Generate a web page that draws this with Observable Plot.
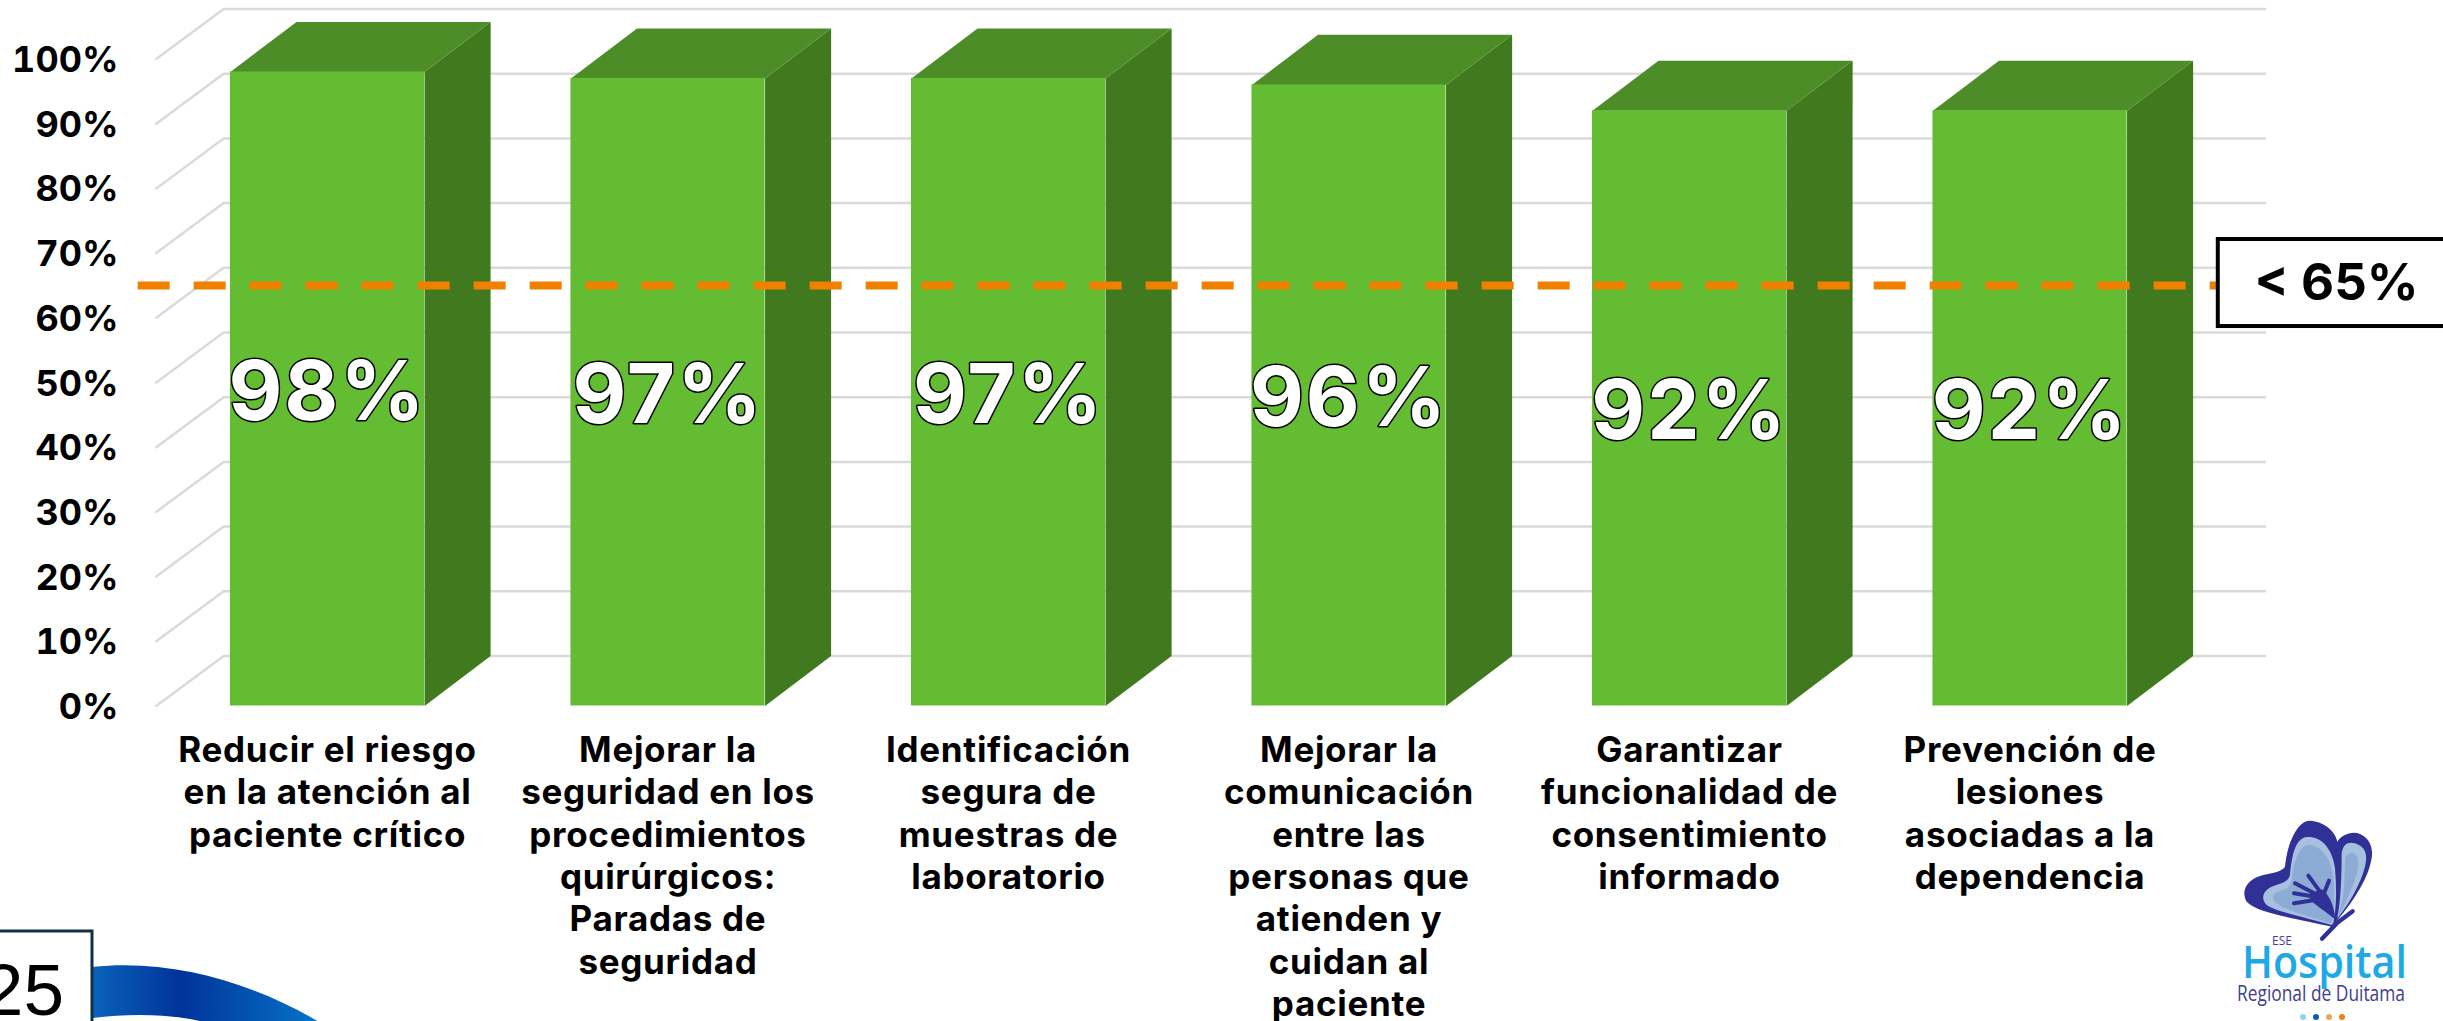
<!DOCTYPE html>
<html lang="es">
<head>
<meta charset="utf-8">
<style>
  html, body { margin: 0; padding: 0; background: #fff; overflow: hidden; }
  svg { display: block; max-width: none !important; }
  g[font-size="35"] { letter-spacing: 0.7px; }
  g[font-size="83"] { letter-spacing: 2px; }
</style>
<script src="https://cdn.jsdelivr.net/npm/d3@7"></script>
<script src="https://cdn.jsdelivr.net/npm/@observablehq/plot@0.6"></script>
</head>
<body>
<div id="chart"></div>
<script>
const categories = [
  "Reducir el riesgo\nen la atención al\npaciente crítico",
  "Mejorar la\nseguridad en los\nprocedimientos\nquirúrgicos:\nParadas de\nseguridad",
  "Identificación\nsegura de\nmuestras de\nlaboratorio",
  "Mejorar la\ncomunicación\nentre las\npersonas que\natienden y\ncuidan al\npaciente",
  "Garantizar\nfuncionalidad de\nconsentimiento\ninformado",
  "Prevención de\nlesiones\nasociadas a la\ndependencia"
];
const values = [98, 97, 97, 96, 92, 92];
const yTicks = [0, 10, 20, 30, 40, 50, 60, 70, 80, 90, 100];
const threshold = 65;
const thresholdLabel = "< 65%";

// Bar geometry in scale units: x unit = one category, y unit = one percent
const halfBar = 0.285, depthX = 0.194, depthY = 7.73;
const axisFrontX = -0.503, gridEndX = 5.69;

const bars = values.map((v, i) => ({i, v, label: v + "%", category: categories[i]}));
const topFace = bars.flatMap(({i, v}) => [
  {id: i, x: i - halfBar, y: v},
  {id: i, x: i + halfBar, y: v},
  {id: i, x: i + halfBar + depthX, y: v + depthY},
  {id: i, x: i - halfBar + depthX, y: v + depthY}
]);
const sideFace = bars.flatMap(({i, v}) => [
  {id: i, x: i + halfBar, y: 0},
  {id: i, x: i + halfBar + depthX, y: depthY},
  {id: i, x: i + halfBar + depthX, y: v + depthY},
  {id: i, x: i + halfBar, y: v}
]);
const grid = yTicks.flatMap(t => [
  {id: t, x: axisFrontX, y: t},
  {id: t, x: axisFrontX + 0.198, y: t + depthY},
  {id: t, x: gridEndX, y: t + depthY}
]);

// Decorations of the slide: page number tab, blue ribbon, hospital logo
function decorations() {
  const ns = "http://www.w3.org/2000/svg";
  const g = d3.select(document.createElementNS(ns, "g")).attr("text-anchor", "start");
  const defs = g.append("defs");
  const lg = defs.append("linearGradient").attr("id", "ribbon")
    .attr("gradientUnits", "userSpaceOnUse").attr("x1", 94).attr("x2", 320).attr("y1", 0).attr("y2", 0);
  lg.append("stop").attr("offset", "0").attr("stop-color", "#0a62b8");
  lg.append("stop").attr("offset", "0.38").attr("stop-color", "#00339b");
  lg.append("stop").attr("offset", "1").attr("stop-color", "#0674c8");
  g.append("path").attr("fill", "url(#ribbon)")
    .attr("d", "M92 967C175 958 262 985 332 1030L228 1030C190 1014 140 1012 92 1018Z");
  g.append("rect").attr("x", -6).attr("y", 931).attr("width", 98).attr("height", 110)
    .attr("fill", "#fff").attr("stroke", "#0f3045").attr("stroke-width", 3);
  g.append("text").attr("x", 64).attr("y", 1015).attr("text-anchor", "end")
    .attr("font-family", "Liberation Sans").attr("font-size", 73).attr("fill", "#000").text("25");

  const logo = g.append("g").attr("transform", "translate(2220,810) scale(0.3333)");
  const dark = "#2f3196";
  logo.append("path").attr("fill", dark).attr("d", "M335 350C250 330 110 310 80 275C60 240 85 205 130 195C160 188 185 185 195 170C200 110 230 30 270 32C310 35 345 60 352 95C365 75 395 62 420 72C450 85 460 115 455 145C445 210 390 290 335 350Z");
  logo.append("path").attr("fill", "#a6c0e0").attr("d", "M335 345C270 325 165 305 140 285C120 265 130 240 160 228C185 220 205 215 210 195C215 140 225 90 255 82C290 75 335 100 345 175C350 235 350 290 340 340Z");
  logo.append("path").attr("fill", "#8cabd5").attr("d", "M335 340C270 320 190 300 165 275C150 258 165 245 190 240C215 232 215 215 217 190C225 150 240 105 265 105C300 105 330 140 338 190C345 240 345 300 335 340Z");
  logo.append("path").attr("fill", "#a6c0e0").attr("d", "M352 325C365 260 365 170 365 130C370 100 385 95 405 100C435 110 445 130 435 170C420 230 380 290 352 325Z");
  logo.append("path").attr("fill", "#8cabd5").attr("d", "M352 320C375 270 375 190 375 150C380 125 400 122 412 140C420 160 410 200 395 235C380 275 365 305 352 320Z");
  logo.append("path").attr("fill", dark).attr("d", "M345 328C345 290 325 250 305 238L270 250C255 270 300 290 345 328Z");
  for (const d of ["M265 197L300 245", "M327 212L312 250", "M225 220L280 248", "M222 250L272 258", "M222 280L285 270"]) {
    logo.append("path").attr("d", d).attr("fill", "none").attr("stroke", dark).attr("stroke-width", 12).attr("stroke-linecap", "round");
  }
  logo.append("path").attr("d", "M306 386L352 338L398 304").attr("fill", "none").attr("stroke", dark).attr("stroke-width", 13).attr("stroke-linecap", "round").attr("stroke-linejoin", "round");

  const txt = (x, y, size, color, s, weight, len) => {
    const t = g.append("text").attr("x", x).attr("y", y)
      .attr("font-family", "Open Sans").attr("font-size", size).attr("font-weight", weight)
      .attr("fill", color).text(s);
    if (len) t.attr("textLength", len).attr("lengthAdjust", "spacingAndGlyphs");
  };
  txt(2242, 978, 45, "#1ca9e6", "Hospital", 600, 165);
  txt(2272, 945, 12, "#3f3f9a", "ESE", 400);
  txt(2237, 1001, 22, "#3d3d8f", "Regional de Duitama", 400, 168);
  [["#8fd3f0", 2303], ["#0b5cb8", 2316], ["#f2a35a", 2329], ["#ee7f1a", 2342]].forEach(([c, x]) =>
    g.append("circle").attr("cx", x).attr("cy", 1017).attr("r", 3).attr("fill", c));
  return g.node();
}

const chart = Plot.plot({
  width: 2443,
  height: 1021,
  marginLeft: 118,
  marginRight: 0,
  marginTop: 0,
  marginBottom: 0,
  style: {fontFamily: "Inter, sans-serif", background: "#fff", color: "#000", overflow: "hidden"},
  x: {domain: [0, 5], range: [327, 2029.5], axis: null},
  y: {domain: [0, 100], range: [705.5, 58.5]},
  marks: [
    Plot.line(grid, {x: "x", y: "y", z: "id", stroke: "#dadada", strokeWidth: 2.5}),
    Plot.line(sideFace, {x: "x", y: "y", z: "id", fill: "#417a1e", stroke: null}),
    Plot.line(topFace, {x: "x", y: "y", z: "id", fill: "#4d8d27", stroke: null}),
    Plot.rect(bars, {x1: d => d.i - halfBar, x2: d => d.i + halfBar, y1: 0, y2: "v", fill: "#63bc32"}),
    Plot.axisY({ticks: yTicks, tickSize: 0, tickPadding: 0, tickFormat: d => d + "%", label: null,
      fontSize: 36, fontWeight: 700, dy: 1.5}),
    Plot.text(bars, {x: "i", y: d => d.v / 2, dy: 4, text: "label", fontSize: 83, fontWeight: 700,
      fill: "#fff", stroke: "#000", strokeWidth: 3, paintOrder: "stroke"}),
    Plot.text(bars, {x: "i", y: 0, dy: 26, text: "category", lineAnchor: "top", lineHeight: 1.21,
      fontSize: 35, fontWeight: 700, fill: "#000"}),
    Plot.ruleY([threshold], {x1: -0.556, x2: 5.55, stroke: "#f08000", strokeWidth: 8, strokeDasharray: "32,24"}),
    Plot.rect([threshold], {x1: 5.553, x2: 7, y1: 58.65, y2: 72.1, fill: "#fff", stroke: "#000", strokeWidth: 4}),
    Plot.text([thresholdLabel], {x: [5.9], y: [threshold], text: d => d, dy: -2, fontSize: 51, fontWeight: 700, fill: "#000"}),
    decorations
  ]
});
document.getElementById("chart").appendChild(chart);
</script>
</body>
</html>
